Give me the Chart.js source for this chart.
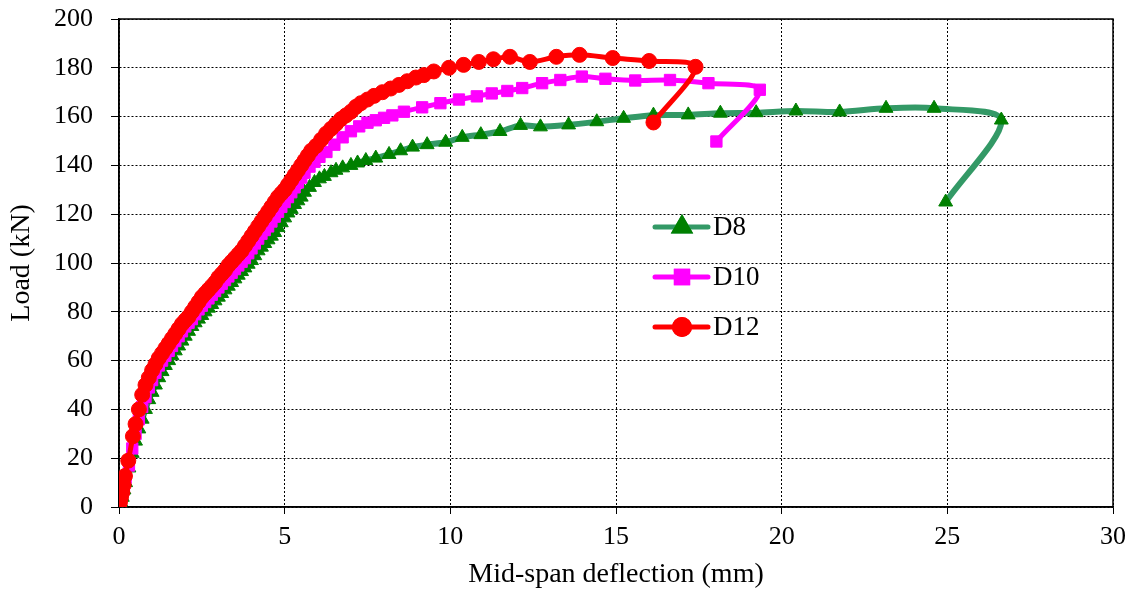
<!DOCTYPE html>
<html lang="en">
<head>
  <meta charset="UTF-8" />
  <title>Load vs mid-span deflection</title>
  <script src="https://cdn.jsdelivr.net/npm/chart.js"></script>
  <style>
    html, body { margin: 0; padding: 0; background: #fff; }
    .wrap { width: 1134px; height: 593px; position: relative; }
  </style>
</head>
<body>
<div class="wrap">
  <canvas id="loadChart" width="1134" height="593"></canvas>
</div>

<script>
  // deflection (mm) and load (kN)
  const d8X = [0, 0.05, 0.1, 0.15, 0.2, 0.3, 0.4, 0.5, 0.6, 0.7, 0.8, 0.9, 1.0, 1.1, 1.2, 1.3, 1.4, 1.5, 1.6, 1.7, 1.8, 1.9, 2.0,
    2.1, 2.2, 2.3, 2.4, 2.5, 2.6, 2.7, 2.8, 2.9, 3.0, 3.1, 3.2, 3.3, 3.4, 3.5, 3.6, 3.7, 3.8, 3.9, 4.0, 4.1, 4.2, 4.3, 4.4,
    4.5, 4.6, 4.7, 4.8, 4.9, 5.0, 5.1, 5.2, 5.3, 5.4, 5.5, 5.6, 5.75, 5.9, 6.05, 6.2, 6.4, 6.55, 6.75, 7.0, 7.2, 7.45, 7.75,
    8.15, 8.5, 8.86, 9.3, 9.86, 10.36, 10.92, 11.5, 12.12, 12.72, 13.57, 14.42, 15.23, 16.13, 17.18, 18.15, 19.23, 20.43,
    21.75, 23.15, 24.6, 26.63, 24.95];
  const d8Y = [0, 2, 4, 7, 10, 16, 22, 27, 32, 36, 40, 44, 47, 50, 53, 55.5, 58, 60, 62, 64, 66, 68, 70,
    72, 74, 75.5, 77, 78.5, 80, 81.5, 83, 84.5, 86, 87.5, 89, 90.5, 92, 93.5, 95, 96.5, 98, 99.5, 101, 103, 105, 106.5, 108,
    109.5, 111, 112.5, 114.5, 116.5, 118.5, 120.5, 122, 124, 125.5, 127, 129, 131, 133, 134.5, 135.5, 137, 138, 139, 140, 141, 142, 143,
    144.5, 146, 147.5, 148.5, 149.5, 151.5, 152.6, 153.9, 156.4, 155.8, 156.6, 157.9, 159.3, 160.6, 160.7, 161.4, 161.6, 162.3,
    161.9, 163.4, 163.4, 158.6, 125];

  const d10X = [0, 0.05, 0.1, 0.15, 0.2, 0.3, 0.4, 0.5, 0.6, 0.7, 0.8, 0.9, 1.0, 1.1, 1.2, 1.3, 1.4, 1.5, 1.6, 1.7, 1.8, 1.9, 2.0,
    2.1, 2.2, 2.3, 2.4, 2.5, 2.6, 2.7, 2.8, 2.9, 3.0, 3.1, 3.2, 3.3, 3.4, 3.5, 3.6, 3.7, 3.8, 3.9, 4.0, 4.1, 4.2, 4.3, 4.4,
    4.5, 4.6, 4.7, 4.8, 4.9, 5.0, 5.1, 5.2, 5.3, 5.4, 5.5, 5.6, 5.75, 5.9, 6.05, 6.26, 6.5, 6.75, 7.0, 7.25, 7.5, 7.75, 8.0,
    8.25, 8.6, 9.15, 9.7, 10.26, 10.8, 11.25, 11.72, 12.17, 12.77, 13.32, 13.97, 14.68, 15.58, 16.63, 17.79, 19.34, 18.03];
  const d10Y = [0, 3, 6, 9, 12, 17, 24, 30, 36, 41, 45, 49, 52, 55, 58, 60, 62, 64, 66, 68, 70, 72, 74,
    75.5, 77, 79, 81, 82.5, 84, 85.5, 87, 88.5, 90, 91.5, 93, 94.5, 96, 97.5, 99, 100.5, 102, 104, 106, 108, 110, 112, 113.5,
    115, 117, 119, 121, 123, 125, 127, 129, 131, 133, 135, 137, 139.5, 141.5, 143.5, 145.5, 148.5, 151.5, 154, 156, 157.5, 158.5, 159.5,
    160.5, 162, 163.8, 165.5, 167, 168.3, 169.5, 170.5, 171.7, 173.7, 175, 176.4, 175.5, 174.8, 175, 173.7, 171, 149.8];

  const d12X = [0, 0.03, 0.06, 0.1, 0.14, 0.18, 0.28, 0.42, 0.5, 0.6, 0.7, 0.8, 0.9, 1.0, 1.1, 1.2, 1.3, 1.4, 1.5, 1.6, 1.7,
    1.8, 1.9, 2.0, 2.1, 2.2, 2.3, 2.4, 2.5, 2.6, 2.7, 2.8, 2.9, 3.0, 3.1, 3.2, 3.3, 3.4, 3.5, 3.6, 3.7, 3.8, 3.9, 4.0, 4.1,
    4.2, 4.3, 4.4, 4.5, 4.6, 4.7, 4.8, 4.9, 5.0, 5.1, 5.2, 5.3, 5.4, 5.5, 5.6, 5.7, 5.8, 5.95, 6.1, 6.25, 6.4, 6.55, 6.7,
    6.85, 7.0, 7.15, 7.3, 7.5, 7.7, 7.95, 8.2, 8.45, 8.7, 8.96, 9.2, 9.5, 9.96, 10.4, 10.86, 11.3, 11.8, 12.4, 13.2, 13.9,
    14.9, 16.0, 17.4, 16.13];
  const d12Y = [0, 2, 4, 6, 9, 12.7, 19, 29, 34, 40, 46, 50, 53, 56, 58.5, 61, 63, 65, 67, 69, 71,
    73, 75, 76.5, 78, 80, 82, 84, 86, 87.5, 89, 90.5, 92, 94, 95.5, 97, 99, 100.5, 102, 103.5, 105, 107, 109, 111, 113,
    115, 117, 119, 121, 123, 125, 127, 128.5, 130, 132, 134, 136, 138, 140, 142, 144, 146, 148, 150.5, 153, 155, 157, 159,
    160.5, 162, 164, 165.5, 167, 168.5, 170, 171.5, 173, 174.5, 176, 177, 178.5, 180, 181.2, 182.4, 183.5, 184.5, 182.4, 184.5, 185.3,
    184, 182.8, 180.4, 157.6];

  const seriesNames = ['D8', 'D10', 'D12'];
  const xTicksStep = 5;
  const yTicksStep = 20;

  const toPoints = (xs, ys) => xs.map((x, i) => ({ x: x, y: ys[i] }));

  const serif = 'Liberation Serif';

  const legendItems = [
    { text: 'D8', line: '#339966', fill: '#008000', style: 'triangle', radius: 8 },
    { text: 'D10', line: '#ff00ff', fill: '#ff00ff', style: 'rect', radius: 8 },
    { text: 'D12', line: '#ff0000', fill: '#ff0000', style: 'circle', radius: 7.5 }
  ];

  // frame round the plot area
  const frame = {
    id: 'frame',
    beforeDatasetsDraw(chart) {
      const { ctx, chartArea: a } = chart;
      ctx.save();
      ctx.strokeStyle = '#000';
      ctx.lineWidth = 1.5;
      ctx.strokeRect(a.left, a.top, a.right - a.left, a.bottom - a.top);
      ctx.restore();
    }
  };

  // legend sits inside the plot, in the middle
  const innerLegend = {
    id: 'innerLegend',
    afterDraw(chart) {
      const ctx = chart.ctx;
      const x0 = 655, y0 = 227, gap = 50;
      ctx.save();
      legendItems.forEach((it, i) => {
        const y = y0 + i * gap;
        ctx.strokeStyle = it.line;
        ctx.lineWidth = 5;
        ctx.lineCap = 'round';
        ctx.beginPath();
        ctx.moveTo(x0, y);
        ctx.lineTo(x0 + 53, y);
        ctx.stroke();
        Chart.helpers.drawPoint(ctx, {
          pointStyle: it.style, radius: it.radius, rotation: 0, borderWidth: 1
        }, x0 + 27, y);
        ctx.fillStyle = it.fill;
        ctx.strokeStyle = it.fill;
        ctx.fill();
        ctx.stroke();
        ctx.fillStyle = '#000';
        ctx.font = '27px "' + serif + '"';
        ctx.textBaseline = 'middle';
        ctx.fillText(it.text, x0 + 58, y + 1);
      });
      ctx.restore();
    }
  };

  const ctx = document.getElementById('loadChart').getContext('2d');
  new Chart(ctx, {
    type: 'scatter',
    data: {
      datasets: [
        {
          label: seriesNames[0],
          data: toPoints(d8X, d8Y),
          showLine: true,
          borderColor: '#339966',
          borderWidth: 6,
          tension: 0.3,
          pointStyle: 'triangle',
          pointRadius: 8,
          pointBackgroundColor: '#008000',
          pointBorderColor: '#008000',
          pointBorderWidth: 1,
          order: 3
        },
        {
          label: seriesNames[1],
          data: toPoints(d10X, d10Y),
          showLine: true,
          borderColor: '#ff00ff',
          borderWidth: 5,
          tension: 0.3,
          pointStyle: 'rect',
          pointRadius: 8,
          pointBackgroundColor: '#ff00ff',
          pointBorderColor: '#ff00ff',
          pointBorderWidth: 1,
          order: 2
        },
        {
          label: seriesNames[2],
          data: toPoints(d12X, d12Y),
          showLine: true,
          borderColor: '#ff0000',
          borderWidth: 5,
          tension: 0.3,
          pointStyle: 'circle',
          pointRadius: 7.5,
          pointBackgroundColor: '#ff0000',
          pointBorderColor: '#ff0000',
          pointBorderWidth: 1,
          order: 1
        }
      ]
    },
    options: {
      responsive: false,
      animation: false,
      layout: { padding: { left: 0, right: 20, top: 19, bottom: 0 } },
      plugins: {
        legend: { display: false },
        tooltip: { enabled: false }
      },
      scales: {
        x: {
          type: 'linear',
          min: 0,
          max: 30,
          ticks: {
            stepSize: xTicksStep,
            color: '#000',
            padding: 8,
            font: { family: serif, size: 26 }
          },
          grid: {
            color: '#000',
            lineWidth: 1,
            tickLength: 7,
            tickColor: '#000',
            tickBorderDash: []
          },
          border: { display: true, color: '#000', width: 1.5, dash: [2, 2] },
          title: {
            display: true,
            text: 'Mid-span deflection (mm)',
            color: '#000',
            font: { family: serif, size: 28 },
            padding: { top: 0, bottom: 2 }
          },
          afterFit: (scale) => { scale.height = 86; }
        },
        y: {
          type: 'linear',
          min: 0,
          max: 200,
          ticks: {
            stepSize: yTicksStep,
            color: '#000',
            padding: 18,
            font: { family: serif, size: 26 }
          },
          grid: {
            color: '#000',
            lineWidth: 1,
            tickLength: 8,
            tickColor: '#000',
            tickBorderDash: []
          },
          border: { display: true, color: '#000', width: 1.5, dash: [2, 2] },
          title: {
            display: true,
            text: 'Load (kN)',
            color: '#000',
            font: { family: serif, size: 28 },
            padding: { top: 5, bottom: 0 }
          },
          afterFit: (scale) => {
            scale.width = 119;
            scale.paddingTop = 0;
            scale.paddingBottom = 0;
          }
        }
      }
    },
    plugins: [frame, innerLegend]
  });
</script>
</body>
</html>
